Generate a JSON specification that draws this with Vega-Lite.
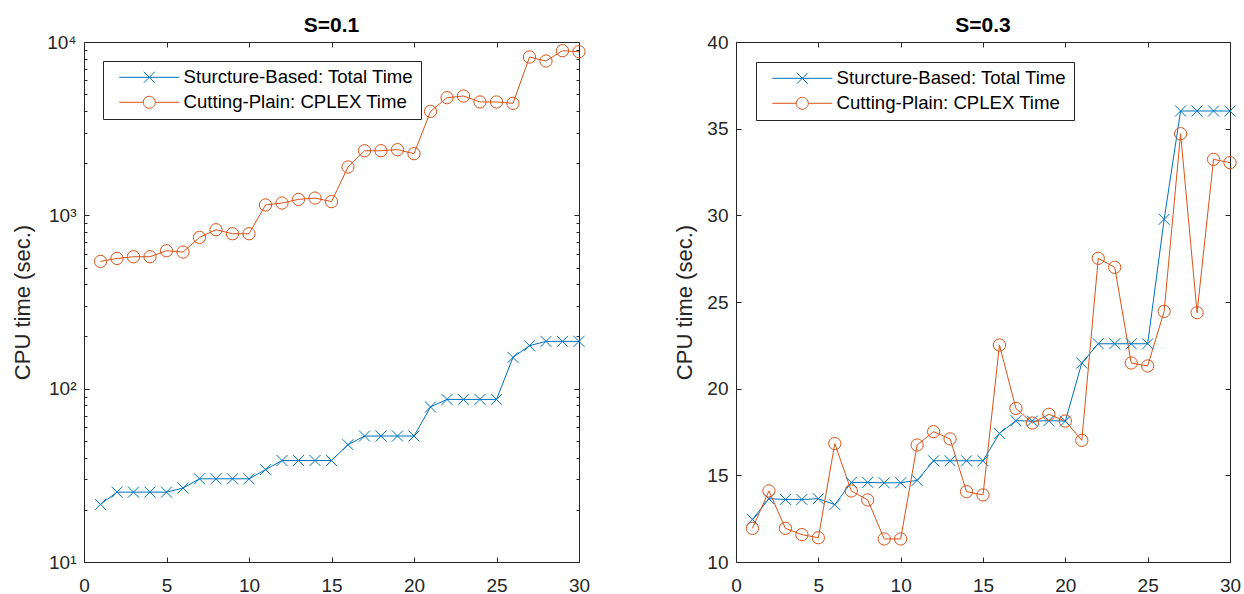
{
  "$schema": "https://vega.github.io/schema/vega-lite/v6.json",
  "background": "white",
  "padding": {"left": 11, "top": 15, "right": 0, "bottom": 0},
  "config": {
    "font": "Liberation Sans",
    "view": {"stroke": null},
    "axis": {"grid": false, "domainColor": "#262626", "tickColor": "#262626", "labelColor": "#262626", "labelFont": "Liberation Sans", "labelFontSize": 19, "titleFont": "Liberation Sans", "titleFontSize": 22, "titleFontWeight": "normal", "titleColor": "#262626", "tickWidth": 1, "domainWidth": 1},
    "title": {"font": "Liberation Sans", "fontSize": 21, "fontWeight": "bold", "color": "black", "offset": -3},
    "legend": {"orient": "none", "legendX": 19, "legendY": 19, "fillColor": "white", "strokeColor": "#262626", "padding": 7, "labelFont": "Liberation Sans", "labelFontSize": 18.6, "labelColor": "black", "labelLimit": 400, "symbolSize": 144, "symbolOffset": 30, "labelOffset": 25, "rowPadding": 6, "symbolStrokeWidth": 1, "symbolFillColor": "transparent"}
  },
  "datasets": {
    "s01": [
      {"n":1,"series":"Sturcture-Based: Total Time","time":21.5},{"n":2,"series":"Sturcture-Based: Total Time","time":25.3},{"n":3,"series":"Sturcture-Based: Total Time","time":25.3},{"n":4,"series":"Sturcture-Based: Total Time","time":25.3},{"n":5,"series":"Sturcture-Based: Total Time","time":25.3},{"n":6,"series":"Sturcture-Based: Total Time","time":26.7},{"n":7,"series":"Sturcture-Based: Total Time","time":30.2},{"n":8,"series":"Sturcture-Based: Total Time","time":30.2},{"n":9,"series":"Sturcture-Based: Total Time","time":30.2},{"n":10,"series":"Sturcture-Based: Total Time","time":30.2},
      {"n":11,"series":"Sturcture-Based: Total Time","time":34.1},{"n":12,"series":"Sturcture-Based: Total Time","time":38.5},{"n":13,"series":"Sturcture-Based: Total Time","time":38.5},{"n":14,"series":"Sturcture-Based: Total Time","time":38.5},{"n":15,"series":"Sturcture-Based: Total Time","time":38.5},{"n":16,"series":"Sturcture-Based: Total Time","time":47.5},{"n":17,"series":"Sturcture-Based: Total Time","time":53.3},{"n":18,"series":"Sturcture-Based: Total Time","time":53.3},{"n":19,"series":"Sturcture-Based: Total Time","time":53.3},{"n":20,"series":"Sturcture-Based: Total Time","time":53.3},
      {"n":21,"series":"Sturcture-Based: Total Time","time":78.4},{"n":22,"series":"Sturcture-Based: Total Time","time":86.7},{"n":23,"series":"Sturcture-Based: Total Time","time":86.7},{"n":24,"series":"Sturcture-Based: Total Time","time":86.7},{"n":25,"series":"Sturcture-Based: Total Time","time":86.7},{"n":26,"series":"Sturcture-Based: Total Time","time":151.5},{"n":27,"series":"Sturcture-Based: Total Time","time":177},{"n":28,"series":"Sturcture-Based: Total Time","time":187.4},{"n":29,"series":"Sturcture-Based: Total Time","time":187.4},{"n":30,"series":"Sturcture-Based: Total Time","time":187.4},
      {"n":1,"series":"Cutting-Plain: CPLEX Time","time":542},{"n":2,"series":"Cutting-Plain: CPLEX Time","time":564},{"n":3,"series":"Cutting-Plain: CPLEX Time","time":577},{"n":4,"series":"Cutting-Plain: CPLEX Time","time":577},{"n":5,"series":"Cutting-Plain: CPLEX Time","time":625},{"n":6,"series":"Cutting-Plain: CPLEX Time","time":614},{"n":7,"series":"Cutting-Plain: CPLEX Time","time":746},{"n":8,"series":"Cutting-Plain: CPLEX Time","time":826},{"n":9,"series":"Cutting-Plain: CPLEX Time","time":783},{"n":10,"series":"Cutting-Plain: CPLEX Time","time":783},
      {"n":11,"series":"Cutting-Plain: CPLEX Time","time":1148},{"n":12,"series":"Cutting-Plain: CPLEX Time","time":1178},{"n":13,"series":"Cutting-Plain: CPLEX Time","time":1236},{"n":14,"series":"Cutting-Plain: CPLEX Time","time":1258},{"n":15,"series":"Cutting-Plain: CPLEX Time","time":1199},{"n":16,"series":"Cutting-Plain: CPLEX Time","time":1900},{"n":17,"series":"Cutting-Plain: CPLEX Time","time":2359},{"n":18,"series":"Cutting-Plain: CPLEX Time","time":2359},{"n":19,"series":"Cutting-Plain: CPLEX Time","time":2393},{"n":20,"series":"Cutting-Plain: CPLEX Time","time":2267},
      {"n":21,"series":"Cutting-Plain: CPLEX Time","time":3978},{"n":22,"series":"Cutting-Plain: CPLEX Time","time":4771},{"n":23,"series":"Cutting-Plain: CPLEX Time","time":4879},{"n":24,"series":"Cutting-Plain: CPLEX Time","time":4508},{"n":25,"series":"Cutting-Plain: CPLEX Time","time":4508},{"n":26,"series":"Cutting-Plain: CPLEX Time","time":4427},{"n":27,"series":"Cutting-Plain: CPLEX Time","time":8190},{"n":28,"series":"Cutting-Plain: CPLEX Time","time":7765},{"n":29,"series":"Cutting-Plain: CPLEX Time","time":8910},{"n":30,"series":"Cutting-Plain: CPLEX Time","time":8790}
    ],
    "s03": [
      {"n":1,"series":"Sturcture-Based: Total Time","time":12.46},{"n":2,"series":"Sturcture-Based: Total Time","time":13.65},{"n":3,"series":"Sturcture-Based: Total Time","time":13.61},{"n":4,"series":"Sturcture-Based: Total Time","time":13.61},{"n":5,"series":"Sturcture-Based: Total Time","time":13.65},{"n":6,"series":"Sturcture-Based: Total Time","time":13.31},{"n":7,"series":"Sturcture-Based: Total Time","time":14.59},{"n":8,"series":"Sturcture-Based: Total Time","time":14.59},{"n":9,"series":"Sturcture-Based: Total Time","time":14.57},{"n":10,"series":"Sturcture-Based: Total Time","time":14.57},
      {"n":11,"series":"Sturcture-Based: Total Time","time":14.71},{"n":12,"series":"Sturcture-Based: Total Time","time":15.84},{"n":13,"series":"Sturcture-Based: Total Time","time":15.84},{"n":14,"series":"Sturcture-Based: Total Time","time":15.84},{"n":15,"series":"Sturcture-Based: Total Time","time":15.84},{"n":16,"series":"Sturcture-Based: Total Time","time":17.42},{"n":17,"series":"Sturcture-Based: Total Time","time":18.15},{"n":18,"series":"Sturcture-Based: Total Time","time":18.13},{"n":19,"series":"Sturcture-Based: Total Time","time":18.15},{"n":20,"series":"Sturcture-Based: Total Time","time":18.13},
      {"n":21,"series":"Sturcture-Based: Total Time","time":21.48},{"n":22,"series":"Sturcture-Based: Total Time","time":22.59},{"n":23,"series":"Sturcture-Based: Total Time","time":22.59},{"n":24,"series":"Sturcture-Based: Total Time","time":22.59},{"n":25,"series":"Sturcture-Based: Total Time","time":22.59},{"n":26,"series":"Sturcture-Based: Total Time","time":29.77},{"n":27,"series":"Sturcture-Based: Total Time","time":36.02},{"n":28,"series":"Sturcture-Based: Total Time","time":36.02},{"n":29,"series":"Sturcture-Based: Total Time","time":36.02},{"n":30,"series":"Sturcture-Based: Total Time","time":36.02},
      {"n":1,"series":"Cutting-Plain: CPLEX Time","time":11.94},{"n":2,"series":"Cutting-Plain: CPLEX Time","time":14.1},{"n":3,"series":"Cutting-Plain: CPLEX Time","time":11.94},{"n":4,"series":"Cutting-Plain: CPLEX Time","time":11.58},{"n":5,"series":"Cutting-Plain: CPLEX Time","time":11.4},{"n":6,"series":"Cutting-Plain: CPLEX Time","time":16.83},{"n":7,"series":"Cutting-Plain: CPLEX Time","time":14.1},{"n":8,"series":"Cutting-Plain: CPLEX Time","time":13.58},{"n":9,"series":"Cutting-Plain: CPLEX Time","time":11.33},{"n":10,"series":"Cutting-Plain: CPLEX Time","time":11.33},
      {"n":11,"series":"Cutting-Plain: CPLEX Time","time":16.75},{"n":12,"series":"Cutting-Plain: CPLEX Time","time":17.52},{"n":13,"series":"Cutting-Plain: CPLEX Time","time":17.1},{"n":14,"series":"Cutting-Plain: CPLEX Time","time":14.06},{"n":15,"series":"Cutting-Plain: CPLEX Time","time":13.87},{"n":16,"series":"Cutting-Plain: CPLEX Time","time":22.52},{"n":17,"series":"Cutting-Plain: CPLEX Time","time":18.86},{"n":18,"series":"Cutting-Plain: CPLEX Time","time":18.02},{"n":19,"series":"Cutting-Plain: CPLEX Time","time":18.52},{"n":20,"series":"Cutting-Plain: CPLEX Time","time":18.13},
      {"n":21,"series":"Cutting-Plain: CPLEX Time","time":17.02},{"n":22,"series":"Cutting-Plain: CPLEX Time","time":27.52},{"n":23,"series":"Cutting-Plain: CPLEX Time","time":27.0},{"n":24,"series":"Cutting-Plain: CPLEX Time","time":21.48},{"n":25,"series":"Cutting-Plain: CPLEX Time","time":21.31},{"n":26,"series":"Cutting-Plain: CPLEX Time","time":24.46},{"n":27,"series":"Cutting-Plain: CPLEX Time","time":34.71},{"n":28,"series":"Cutting-Plain: CPLEX Time","time":24.38},{"n":29,"series":"Cutting-Plain: CPLEX Time","time":33.23},{"n":30,"series":"Cutting-Plain: CPLEX Time","time":33.04}
    ]
  },
  "hconcat": [
    {
      "width": 495, "height": 520,
      "title": "S=0.1",
      "data": {"name": "s01"},
      "layer": [
        {
          "mark": {"type": "line", "strokeWidth": 1},
          "encoding": {
            "x": {"field": "n", "type": "quantitative", "scale": {"domain": [0, 30], "nice": false, "zero": false}, "axis": {"orient": "bottom", "values": [0,5,10,15,20,25,30], "tickSize": -5, "labelPadding": 19, "labelFlush": false, "labelOverlap": false, "title": null}},
            "y": {"field": "time", "type": "quantitative", "scale": {"type": "log", "domain": [10, 10000], "nice": false}, "axis": {"orient": "left", "values": [10,20,30,40,50,60,70,80,90,100,200,300,400,500,600,700,800,900,1000,2000,3000,4000,5000,6000,7000,8000,9000,10000], "labelExpr": "datum.value == 10 ? '10¹' : datum.value == 100 ? '10²' : datum.value == 1000 ? '10³' : datum.value == 10000 ? '10⁴' : ''", "tickSize": {"condition": {"test": "datum.value == 10 || datum.value == 100 || datum.value == 1000 || datum.value == 10000", "value": -5}, "value": -3}, "labelPadding": 13, "labelOverlap": false, "title": "CPU time (sec.)", "titlePadding": 12}},
            "color": {"field": "series", "type": "nominal", "scale": {"domain": ["Sturcture-Based: Total Time", "Cutting-Plain: CPLEX Time"], "range": ["#0072BD", "#D95319"]}, "legend": {"title": null, "encode": {"symbols": {"update": {"shape": {"signal": "datum.value === 'Sturcture-Based: Total Time' ? 'M-5,0H5M-0.92,-0.92L0.92,0.92M-0.92,0.92L0.92,-0.92' : 'M-5,0H-1A1,1,0,1,1,1,0A1,1,0,1,1,-1,0M1,0H5'"}, "fill": {"value": "transparent"}, "strokeWidth": {"value": 1}}}}}}
          }
        },
        {
          "transform": [{"filter": "datum.series === 'Sturcture-Based: Total Time'"}],
          "mark": {"type": "point", "shape": "M-1,-1L1,1M-1,1L1,-1", "filled": false, "strokeWidth": 1, "opacity": 1, "size": 121},
          "encoding": {
            "x": {"field": "n", "type": "quantitative", "axis": {"orient": "top", "values": [0,5,10,15,20,25,30], "tickSize": -5, "labels": false, "title": null}},
            "y": {"field": "time", "type": "quantitative", "axis": {"orient": "right", "values": [10,20,30,40,50,60,70,80,90,100,200,300,400,500,600,700,800,900,1000,2000,3000,4000,5000,6000,7000,8000,9000,10000], "tickSize": {"condition": {"test": "datum.value == 10 || datum.value == 100 || datum.value == 1000 || datum.value == 10000", "value": -5}, "value": -3}, "labels": false, "title": null}},
            "color": {"field": "series", "type": "nominal", "legend": null}
          }
        },
        {
          "transform": [{"filter": "datum.series === 'Cutting-Plain: CPLEX Time'"}],
          "mark": {"type": "point", "shape": "circle", "filled": false, "strokeWidth": 1, "opacity": 1, "size": 150},
          "encoding": {
            "x": {"field": "n", "type": "quantitative", "axis": null},
            "y": {"field": "time", "type": "quantitative", "axis": null},
            "color": {"field": "series", "type": "nominal", "legend": null}
          }
        }
      ],
      "resolve": {"axis": {"x": "independent", "y": "independent"}}
    },
    {
      "width": 494, "height": 520,
      "title": "S=0.3",
      "data": {"name": "s03"},
      "layer": [
        {
          "mark": {"type": "line", "strokeWidth": 1},
          "encoding": {
            "x": {"field": "n", "type": "quantitative", "scale": {"domain": [0, 30], "nice": false, "zero": false}, "axis": {"orient": "bottom", "values": [0,5,10,15,20,25,30], "tickSize": -5, "labelPadding": 19, "labelFlush": false, "labelOverlap": false, "title": null}},
            "y": {"field": "time", "type": "quantitative", "scale": {"domain": [10, 40], "nice": false, "zero": false}, "axis": {"orient": "left", "values": [10,15,20,25,30,35,40], "tickSize": -5, "labelPadding": 13, "labelOverlap": false, "title": "CPU time (sec.)", "titlePadding": 10}},
            "color": {"field": "series", "type": "nominal", "scale": {"domain": ["Sturcture-Based: Total Time", "Cutting-Plain: CPLEX Time"], "range": ["#0072BD", "#D95319"]}, "legend": {"title": null, "legendX": 20, "legendY": 20, "encode": {"symbols": {"update": {"shape": {"signal": "datum.value === 'Sturcture-Based: Total Time' ? 'M-5,0H5M-0.92,-0.92L0.92,0.92M-0.92,0.92L0.92,-0.92' : 'M-5,0H-1A1,1,0,1,1,1,0A1,1,0,1,1,-1,0M1,0H5'"}, "fill": {"value": "transparent"}, "strokeWidth": {"value": 1}}}}}}
          }
        },
        {
          "transform": [{"filter": "datum.series === 'Sturcture-Based: Total Time'"}],
          "mark": {"type": "point", "shape": "M-1,-1L1,1M-1,1L1,-1", "filled": false, "strokeWidth": 1, "opacity": 1, "size": 121},
          "encoding": {
            "x": {"field": "n", "type": "quantitative", "axis": {"orient": "top", "values": [0,5,10,15,20,25,30], "tickSize": -5, "labels": false, "title": null}},
            "y": {"field": "time", "type": "quantitative", "axis": {"orient": "right", "values": [10,15,20,25,30,35,40], "tickSize": -5, "labels": false, "title": null}},
            "color": {"field": "series", "type": "nominal", "legend": null}
          }
        },
        {
          "transform": [{"filter": "datum.series === 'Cutting-Plain: CPLEX Time'"}],
          "mark": {"type": "point", "shape": "circle", "filled": false, "strokeWidth": 1, "opacity": 1, "size": 150},
          "encoding": {
            "x": {"field": "n", "type": "quantitative", "axis": null},
            "y": {"field": "time", "type": "quantitative", "axis": null},
            "color": {"field": "series", "type": "nominal", "legend": null}
          }
        }
      ],
      "resolve": {"axis": {"x": "independent", "y": "independent"}}
    }
  ],
  "spacing": 157,
  "bounds": "flush",
  "resolve": {"scale": {"color": "independent"}, "legend": {"color": "independent"}}
}
